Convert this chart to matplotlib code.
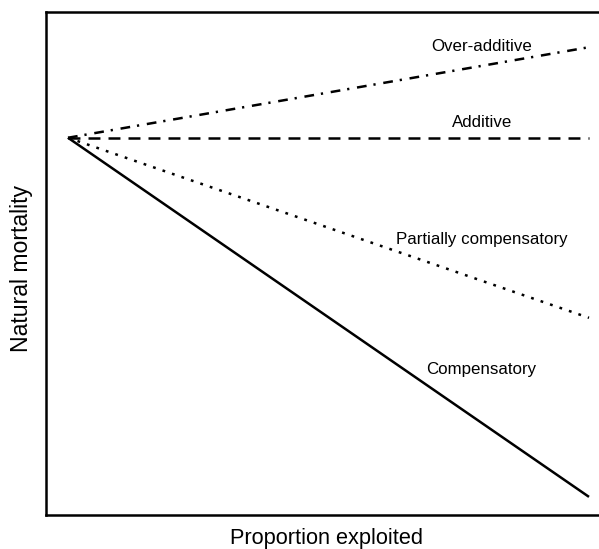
import matplotlib
matplotlib.use("Agg")
import matplotlib.pyplot as plt

plt.rcParams['font.family'] = ['Liberation Sans', 'DejaVu Sans']
plt.rcParams['lines.scale_dashes'] = False

# Data (arbitrary units, 0..1)
proportion = [0.0, 1.0]
series_names = ["Over-additive", "Additive", "Partially compensatory", "Compensatory"]
over_additive = [0.75, 0.93]
additive = [0.75, 0.75]
partially_compensatory = [0.75, 0.392]
compensatory = [0.75, 0.036]
label_x = [0.794, 0.794, 0.794, 0.794]
label_y = [0.932, 0.781, 0.547, 0.289]

fig = plt.figure(figsize=(5.99, 5.49), dpi=100)
W, H = 599, 549
left, right, top, bottom = 46, 601, 12, 515
ax = fig.add_axes([left / W, 1 - bottom / H, (right - left) / W, (bottom - top) / H])

x0px, x1px = 68, 589
span = x1px - x0px
ax.set_xlim(-(x0px - left) / span, (right - x0px) / span)
ax.set_ylim(0, 1)

series = [over_additive, additive, partially_compensatory, compensatory]
styles = [
    (0, (7.0, 5.0, 1.6, 5.6)),
    (0, (8.6, 5.8)),
    (0, (2.0, 5.2)),
    '-',
]
for vals, ls in zip(series, styles):
    ax.plot(proportion, vals, color='black', lw=1.8, linestyle=ls, solid_capstyle='butt', dash_capstyle='butt')

for name, lx, ly in zip(series_names, label_x, label_y):
    ax.text(lx, ly, name, ha='center', va='center', fontsize=12.2, color='black')

ax.set_xticks([])
ax.set_yticks([])
for s in ax.spines.values():
    s.set_linewidth(1.8)

ax.set_xlabel("Proportion exploited", fontsize=15.7)
ax.xaxis.label.set_va('baseline')
ax.xaxis.set_label_coords(((230 + 423) / 2 - left) / (right - left), (bottom - 544) / (bottom - top))
ax.set_ylabel("Natural mortality", fontsize=16.6)
ax.yaxis.set_label_coords((22 - left) / (right - left), (bottom - 268) / (bottom - top))
ax.yaxis.label.set_va('center')

fig.savefig("out.png", dpi=100)
